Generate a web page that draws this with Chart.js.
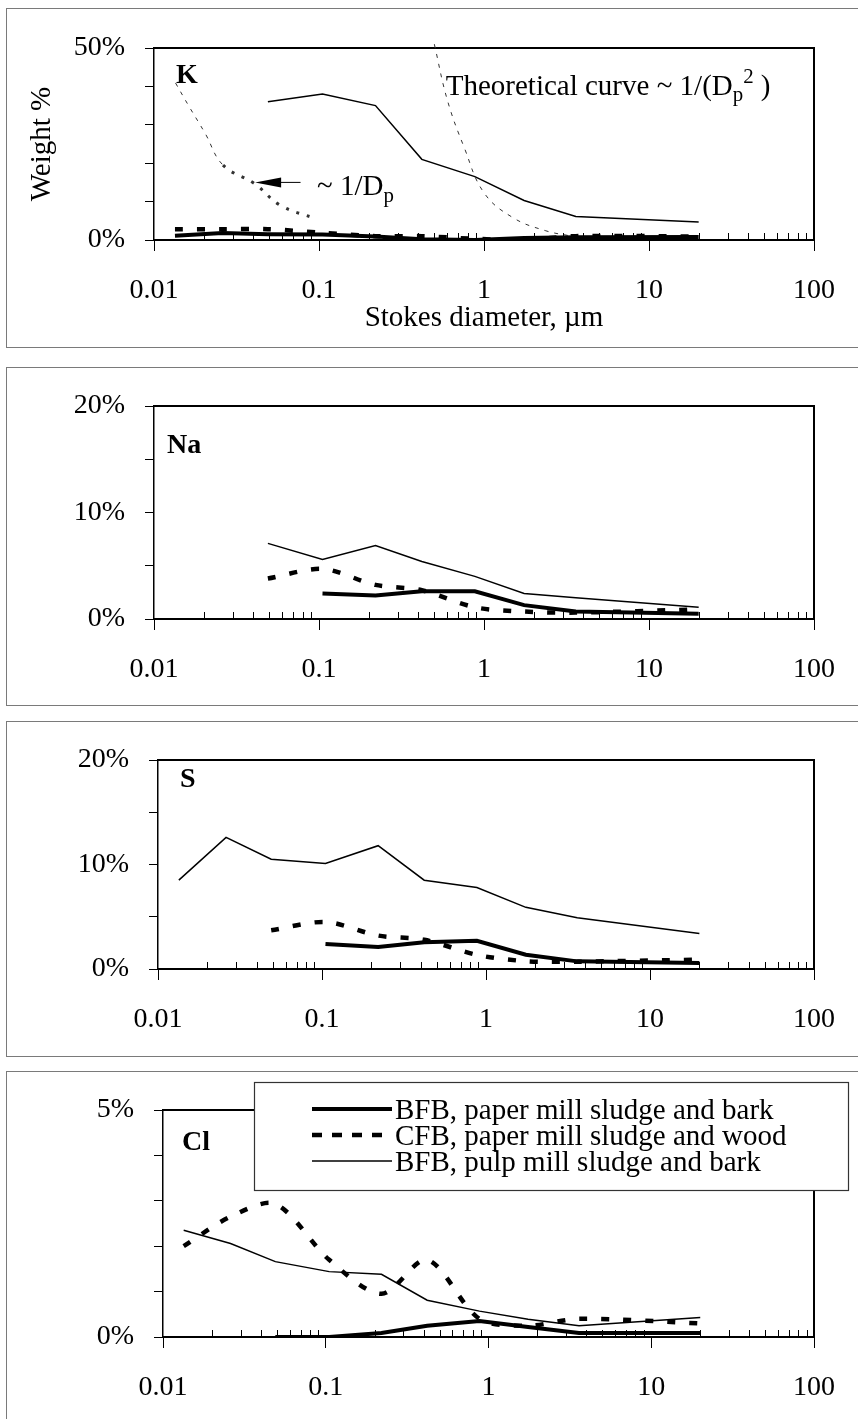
<!DOCTYPE html>
<html>
<head>
<meta charset="utf-8">
<script src="https://cdn.jsdelivr.net/npm/chart.js@4.4.1/dist/chart.umd.min.js"></script>
<style>
  html, body { margin: 0; padding: 0; background: #fff; }
  body { width: 858px; height: 1419px; position: relative; overflow: hidden; }
  .panel { position: absolute; left: 6px; width: 900px; border: 1.5px solid #7a7a7a; box-sizing: border-box; }
  canvas { position: absolute; left: 0; }
</style>
</head>
<body>
<div class="panel" style="top:8px;height:340px"></div>
<div class="panel" style="top:367px;height:339px"></div>
<div class="panel" style="top:721px;height:336px"></div>
<div class="panel" style="top:1071px;height:400px"></div>
<canvas id="kChart" width="858" height="350" style="top:0px"></canvas>
<canvas id="naChart" width="858" height="350" style="top:360px"></canvas>
<canvas id="sChart" width="858" height="345" style="top:715px"></canvas>
<canvas id="clChart" width="858" height="354" style="top:1065px"></canvas>
<script>
// impactor stage diameters (µm)
const stageDiameters = [0.0134, 0.026, 0.049, 0.105, 0.22, 0.42, 0.88, 1.75, 3.6, 20];
const seriesNames = ["BFB, paper mill sludge and bark", "CFB, paper mill sludge and wood", "BFB, pulp mill sludge and bark"];

// weight % per element
const kPaperBark = [1.1, 1.8, 1.5, 1.4, 0.9, 0.2, 0.0, 0.5, 0.7, 0.8];
const kPaperWood = [2.8, 2.8, 2.8, 1.9, 1.0, 1.0, 0.3, 0.0, 1.0, 0.9];
const kPulpBark = [null, null, 36, 38, 35, 21, 16.5, 10.3, 6.1, 4.7];

const naPaperBark = [null, null, null, 2.4, 2.2, 2.6, 2.6, 1.3, 0.7, 0.5];
const naPaperWood = [null, null, 3.8, 4.7, 3.2, 2.7, 1.1, 0.7, 0.6, 0.9];
const naPulpBark = [null, null, 7.1, 5.6, 6.9, 5.4, 4.0, 2.4, 2.0, 1.1];

const sPaperBark = [null, null, null, 2.4, 2.1, 2.55, 2.7, 1.37, 0.73, 0.57];
const sPaperWood = [null, null, 3.7, 4.5, 3.2, 2.8, 1.35, 0.75, 0.7, 0.9];
const sPulpBark = [8.5, 12.6, 10.5, 10.1, 11.8, 8.5, 7.8, 5.9, 4.9, 3.4];

const clPaperBark = [null, null, 0.0, 0.0, 0.09, 0.25, 0.35, 0.22, 0.09, 0.09];
const clPaperWood = [2.0, 2.65, 2.93, 1.7, 0.95, 1.7, 0.4, 0.25, 0.4, 0.3];
const clPulpBark = [2.35, 2.06, 1.66, 1.44, 1.38, 0.81, 0.57, 0.39, 0.25, 0.43];

// theoretical curves in the K panel
const invDpX = [0.0135, 0.0163, 0.0204, 0.0262, 0.0406, 0.0584, 0.0966];
const invDpY = [40.9, 34.8, 27.8, 19.5, 14.7, 9.0, 5.5];
const invDp2X = [0.5, 0.6, 0.76, 1.0, 1.5, 2.37, 3.4];
const invDp2Y = [51, 36.4, 24, 12.3, 5.8, 2.4, 1.0];

// axes
const xMajorTicks = [0.01, 0.1, 1, 10, 100];
const xTickLabels = ["0.01", "0.1", "1", "10", "100"];
const minorMultipliers = [2, 3, 4, 5, 6, 7, 8, 9];
const xMinorTicks = xMajorTicks.slice(0, -1).flatMap(d => minorMultipliers.map(m => +(m * d).toPrecision(3)));
const kYTicks = [0, 10, 20, 30, 40, 50], kYLabels = [0, 50];
const naYTicks = [0, 5, 10, 15, 20], naYLabels = [0, 10, 20];
const sYTicks = [0, 5, 10, 15, 20], sYLabels = [0, 10, 20];
const clYTicks = [0, 1, 2, 3, 4, 5], clYLabels = [0, 5];

const SERIF = '"Liberation Serif", "Times New Roman", serif';
Chart.defaults.font.family = SERIF;
Chart.defaults.color = "#000";

const lineStyles = [
  { borderWidth: 4, tension: 0 },
  { borderWidth: 4.5, borderDash: [8, 14], tension: 0.3 },
  { borderWidth: 1.5, tension: 0 }
];

function points(xs, ys) {
  return xs.map((x, i) => ({ x, y: ys[i] }));
}

function seriesSets(arrays) {
  return arrays.map((vals, i) => ({
    label: seriesNames[i],
    data: points(stageDiameters, vals),
    borderColor: "#000",
    pointRadius: 0,
    fill: false,
    spanGaps: false,
    ...lineStyles[i]
  }));
}

function drawRich(ctx, parts, x, y, size) {
  parts.forEach(p => {
    const small = p.sub || p.sup;
    const s = small ? size * 0.72 : size;
    ctx.font = `${s}px ${SERIF}`;
    const dy = p.sub ? size * 0.22 : p.sup ? -size * 0.42 : 0;
    ctx.fillText(p.t, x, y + dy);
    x += ctx.measureText(p.t).width;
  });
}

const decorByCanvas = {};

const panelDecor = {
  id: "panelDecor",
  beforeDatasetsDraw(chart) {
    const { ctx, chartArea: a } = chart;
    const xs = chart.scales.x;
    ctx.save();
    ctx.strokeStyle = "#000";
    ctx.lineWidth = 2;
    ctx.beginPath();
    ctx.moveTo(a.left, a.top);
    ctx.lineTo(a.right, a.top);
    ctx.lineTo(a.right, a.bottom);
    ctx.stroke();
    // minor ticks point up into the plot
    ctx.lineWidth = 1;
    ctx.beginPath();
    xMinorTicks.forEach(v => {
      const px = Math.round(xs.getPixelForValue(v)) + 0.5;
      ctx.moveTo(px, a.bottom);
      ctx.lineTo(px, a.bottom - 7);
    });
    ctx.stroke();
    ctx.restore();
  },
  afterDraw(chart) {
    const cfg = decorByCanvas[chart.canvas.id];
    const { ctx, chartArea: a } = chart;
    const xs = chart.scales.x, ys = chart.scales.y;
    ctx.save();
    ctx.fillStyle = "#000";
    ctx.textBaseline = "alphabetic";
    ctx.textAlign = "left";

    ctx.font = `bold 28px ${SERIF}`;
    ctx.fillText(cfg.name, a.left + cfg.nameOffset[0], a.top + cfg.nameOffset[1]);

    (cfg.notes || []).forEach(n => {
      drawRich(ctx, n.parts, xs.getPixelForValue(n.x), ys.getPixelForValue(n.y), 29);
    });

    (cfg.arrows || []).forEach(ar => {
      const x0 = xs.getPixelForValue(ar.from.x), y0 = ys.getPixelForValue(ar.from.y);
      const x1 = xs.getPixelForValue(ar.to.x), y1 = ys.getPixelForValue(ar.to.y);
      ctx.strokeStyle = "#000";
      ctx.lineWidth = 1;
      ctx.beginPath();
      ctx.moveTo(x0, y0);
      ctx.lineTo(x1 + 20, y1);
      ctx.stroke();
      ctx.beginPath();
      ctx.moveTo(x1, y1);
      ctx.lineTo(x1 + 26, y1 - 5);
      ctx.lineTo(x1 + 26, y1 + 5);
      ctx.closePath();
      ctx.fill();
    });

    if (cfg.yTitle) {
      ctx.save();
      ctx.translate(42, (a.top + a.bottom) / 2);
      ctx.rotate(-Math.PI / 2);
      ctx.textAlign = "center";
      ctx.textBaseline = "middle";
      ctx.font = `29px ${SERIF}`;
      ctx.fillText(cfg.yTitle, 0, 0);
      ctx.restore();
    }
    if (cfg.xTitle) {
      ctx.textAlign = "center";
      ctx.font = `29px ${SERIF}`;
      ctx.fillText(cfg.xTitle, (a.left + a.right) / 2, a.bottom + 86);
      ctx.textAlign = "left";
    }

    if (cfg.legend) {
      const L = cfg.legend;
      ctx.fillStyle = "#fff";
      ctx.fillRect(L.left, L.top, L.width, L.height);
      ctx.strokeStyle = "#333";
      ctx.lineWidth = 1.2;
      ctx.strokeRect(L.left + 0.5, L.top + 0.5, L.width, L.height);
      ctx.fillStyle = "#000";
      ctx.font = `29px ${SERIF}`;
      ctx.textBaseline = "middle";
      chart.data.datasets.slice(0, 3).forEach((ds, i) => {
        const y = L.top + L.rowTop + i * L.rowGap;
        ctx.save();
        ctx.strokeStyle = "#000";
        ctx.lineWidth = ds.borderWidth;
        ctx.setLineDash(ds.borderDash ? [10, 10] : []);
        ctx.beginPath();
        ctx.moveTo(L.left + 58, y);
        ctx.lineTo(L.left + 138, y);
        ctx.stroke();
        ctx.restore();
        ctx.fillText(ds.label, L.left + 141, y + 2);
      });
    }
    ctx.restore();
  }
};

function makePanel(id, cfg, datasets) {
  const canvas = document.getElementById(id);
  const H = canvas.height;
  decorByCanvas[id] = cfg;
  return new Chart(canvas, {
    type: "line",
    data: { datasets },
    options: {
      responsive: false,
      animation: false,
      devicePixelRatio: 1,
      events: [],
      layout: { padding: { top: cfg.area.top, right: canvas.width - cfg.area.right, left: 0, bottom: 0 } },
      plugins: { legend: { display: false }, tooltip: { enabled: false } },
      scales: {
        x: {
          type: "logarithmic",
          min: 0.01,
          max: 100,
          afterBuildTicks: s => { s.ticks = xMajorTicks.map(v => ({ value: v })); },
          afterFit: s => { s.height = H - cfg.area.bottom; },
          ticks: {
            autoSkip: false,
            maxRotation: 0,
            padding: 23,
            font: { size: 28 },
            callback: v => xTickLabels[xMajorTicks.indexOf(v)] ?? ""
          },
          grid: { drawOnChartArea: false, tickLength: 11, color: "#000", lineWidth: 1 },
          border: { color: "#000", width: 2 }
        },
        y: {
          min: 0,
          max: cfg.yTicks[cfg.yTicks.length - 1],
          afterBuildTicks: s => { s.ticks = cfg.yTicks.map(v => ({ value: v })); },
          afterFit: s => { s.width = cfg.area.left; },
          ticks: {
            padding: 20,
            font: { size: 28 },
            callback: v => cfg.yLabels.includes(v) ? v + "%" : ""
          },
          grid: { drawOnChartArea: false, tickLength: 9, color: "#000", lineWidth: 1 },
          border: { color: "#000", width: 1.5 }
        }
      }
    },
    plugins: [panelDecor]
  });
}

const theoryStyle = { borderColor: "#333", borderWidth: 1, pointRadius: 0, fill: false, tension: 0.4 };

makePanel("kChart", {
  area: { left: 154, right: 826, top: 48, bottom: 240 },
  yTicks: kYTicks, yLabels: kYLabels,
  name: "K", nameOffset: [22, 35],
  yTitle: "Weight %",
  xTitle: "Stokes diameter, \u00b5m",
  notes: [
    { x: 0.586, y: 37.8, parts: [{ t: "Theoretical curve ~ 1/(D" }, { t: "p", sub: true }, { t: "2", sup: true }, { t: " )" }] },
    { x: 0.0973, y: 11.6, parts: [{ t: "~ 1/D" }, { t: "p", sub: true }] }
  ],
  arrows: [{ from: { x: 0.0773, y: 15 }, to: { x: 0.041, y: 15 } }]
}, [
  ...seriesSets([kPaperBark, kPaperWood, kPulpBark]),
  {
    ...theoryStyle,
    data: points(invDpX, invDpY),
    borderDash: [4, 6],
    segment: {
      borderWidth: c => c.p0.parsed.x >= 0.026 ? 3 : 1,
      borderDash: c => c.p0.parsed.x >= 0.026 ? [3, 8] : [4, 6]
    }
  },
  { ...theoryStyle, data: points(invDp2X, invDp2Y), borderDash: [4, 6], clip: 12 }
]);

makePanel("naChart", {
  area: { left: 154, right: 826, top: 46, bottom: 259 },
  yTicks: naYTicks, yLabels: naYLabels,
  name: "Na", nameOffset: [13, 47]
}, seriesSets([naPaperBark, naPaperWood, naPulpBark]));

makePanel("sChart", {
  area: { left: 158, right: 827, top: 45, bottom: 254 },
  yTicks: sYTicks, yLabels: sYLabels,
  name: "S", nameOffset: [22, 27]
}, seriesSets([sPaperBark, sPaperWood, sPulpBark]));

makePanel("clChart", {
  area: { left: 163, right: 826, top: 45, bottom: 272 },
  yTicks: clYTicks, yLabels: clYLabels,
  name: "Cl", nameOffset: [19, 40],
  legend: { left: 254, top: 17, width: 594, height: 108, rowTop: 27, rowGap: 26 }
}, seriesSets([clPaperBark, clPaperWood, clPulpBark]));
</script>
</body>
</html>
